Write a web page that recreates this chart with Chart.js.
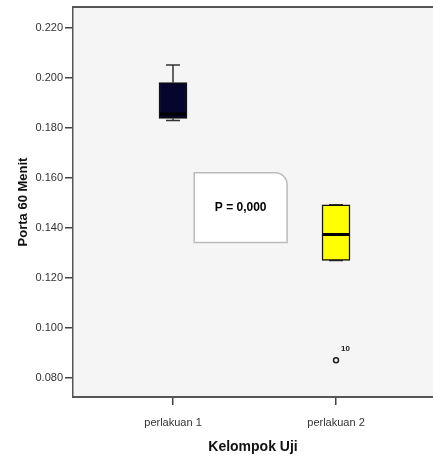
<!DOCTYPE html>
<html>
<head>
<meta charset="utf-8">
<script src="https://cdn.jsdelivr.net/npm/chart.js@4.4.1/dist/chart.umd.min.js"></script>
<style>
  html, body { margin: 0; padding: 0; background: #fff; overflow: hidden; }
  canvas { display: block; }
</style>
</head>
<body>
<canvas id="box" width="433" height="456"></canvas>
<script>
// Data
const groups = ['perlakuan 1', 'perlakuan 2'];
const groupPos = [1, 2];
const whiskerLow = [0.1830, 0.1270];
const q1 = [0.1838, 0.1270];
const median = [0.1856, 0.1374];
const q3 = [0.1982, 0.1493];
const whiskerHigh = [0.2052, 0.1493];
const outlierPos = [2];
const outlierVals = [0.0871];
const outlierLabels = ['10'];
const yTicks = [0.080, 0.100, 0.120, 0.140, 0.160, 0.180, 0.200, 0.220];
const pText = 'P = 0,000';

const boxColors = ['#05052e', '#ffff00'];

// annotation box placed in data units
const pBox = { x1: 1.13, x2: 1.70, y1: 0.1621, y2: 0.1342 };

const boxPlugin = {
    id: 'boxExtras',
    beforeDraw(chart) {
        const { ctx, chartArea: a } = chart;
        ctx.save();
        ctx.fillStyle = '#f5f5f5';
        ctx.fillRect(a.left, a.top, a.right - a.left, a.bottom - a.top);
        ctx.restore();
    },
    beforeDatasetsDraw(chart) {
        const { ctx, scales: { x, y } } = chart;
        ctx.save();
        ctx.strokeStyle = '#333';
        ctx.lineWidth = 1.5;
        groupPos.forEach((g, i) => {
            const px = x.getPixelForValue(g);
            const cap = 7;
            ctx.beginPath();
            ctx.moveTo(px, y.getPixelForValue(whiskerHigh[i]));
            ctx.lineTo(px, y.getPixelForValue(q3[i]));
            ctx.moveTo(px, y.getPixelForValue(whiskerLow[i]));
            ctx.lineTo(px, y.getPixelForValue(q1[i]));
            ctx.moveTo(px - cap, y.getPixelForValue(whiskerHigh[i]));
            ctx.lineTo(px + cap, y.getPixelForValue(whiskerHigh[i]));
            ctx.moveTo(px - cap, y.getPixelForValue(whiskerLow[i]));
            ctx.lineTo(px + cap, y.getPixelForValue(whiskerLow[i]));
            ctx.stroke();
        });
        ctx.restore();
    },
    afterDatasetsDraw(chart) {
        const { ctx, chartArea: a, scales: { x, y } } = chart;
        ctx.save();
        // median lines
        ctx.strokeStyle = '#000';
        ctx.lineWidth = 3;
        groupPos.forEach((g, i) => {
            const px = x.getPixelForValue(g);
            const py = y.getPixelForValue(median[i]);
            ctx.beginPath();
            ctx.moveTo(px - 13, py);
            ctx.lineTo(px + 13, py);
            ctx.stroke();
        });

        // outlier labels
        ctx.fillStyle = '#222';
        ctx.font = 'bold 8px "Liberation Sans", Arial, sans-serif';
        ctx.textAlign = 'left';
        ctx.textBaseline = 'middle';
        outlierVals.forEach((v, i) => {
            ctx.fillText(outlierLabels[i], x.getPixelForValue(outlierPos[i]) + 5, y.getPixelForValue(v) - 11);
        });

        // top frame line
        ctx.strokeStyle = '#555';
        ctx.lineWidth = 2;
        ctx.beginPath();
        ctx.moveTo(a.left, a.top);
        ctx.lineTo(a.right, a.top);
        ctx.stroke();

        // P value box
        const bx1 = x.getPixelForValue(pBox.x1), bx2 = x.getPixelForValue(pBox.x2);
        const by1 = y.getPixelForValue(pBox.y1), by2 = y.getPixelForValue(pBox.y2);
        const r = 12;
        ctx.beginPath();
        ctx.moveTo(bx1, by1);
        ctx.lineTo(bx2 - r, by1);
        ctx.arcTo(bx2, by1, bx2, by1 + r, r);
        ctx.lineTo(bx2, by2);
        ctx.lineTo(bx1, by2);
        ctx.closePath();
        ctx.fillStyle = '#fff';
        ctx.fill();
        ctx.strokeStyle = '#bbb';
        ctx.lineWidth = 1.5;
        ctx.stroke();
        ctx.fillStyle = '#000';
        ctx.font = 'bold 12px "Liberation Sans", Arial, sans-serif';
        ctx.textAlign = 'center';
        ctx.fillText(pText, (bx1 + bx2) / 2, (by1 + by2) / 2);
        ctx.restore();
    }
};

new Chart(document.getElementById('box'), {
    type: 'bar',
    data: {
        datasets: [
            {
                type: 'bar',
                data: groupPos.map((g, i) => ({ x: g, y: [q1[i], q3[i]] })),
                backgroundColor: boxColors,
                borderColor: '#111',
                borderWidth: 1.5,
                borderSkipped: false,
                barThickness: 28
            },
            {
                type: 'scatter',
                data: outlierPos.map((g, i) => ({ x: g, y: outlierVals[i] })),
                pointRadius: 2.5,
                pointBackgroundColor: '#f5f5f5',
                pointBorderColor: '#222',
                pointBorderWidth: 1.5
            }
        ]
    },
    options: {
        responsive: false,
        animation: false,
        layout: { autoPadding: false, padding: { top: 7, left: 0, right: 0, bottom: 0 } },
        plugins: { legend: { display: false }, tooltip: { enabled: false } },
        scales: {
            x: {
                type: 'linear',
                offset: false,
                min: 0.3865,
                max: 2.595,
                afterBuildTicks: s => { s.ticks = groupPos.map(v => ({ value: v })); },
                afterFit: s => { s.height = 59; s.paddingLeft = 0; s.paddingRight = 0; },
                ticks: {
                    color: '#333',
                    font: { family: '"Liberation Sans", Arial, sans-serif', size: 11 },
                    padding: 11,
                    callback: (v) => groups[groupPos.indexOf(v)] || ''
                },
                grid: { offset: false, drawOnChartArea: false, tickLength: 8, color: '#444', lineWidth: 1.5 },
                border: { color: '#555', width: 2 },
                title: {
                    display: true,
                    text: 'Kelompok Uji',
                    color: '#111',
                    font: { family: '"Liberation Sans", Arial, sans-serif', size: 14, weight: 'bold' },
                    padding: { top: 0, bottom: 0 }
                }
            },
            y: {
                min: 0.0724,
                max: 0.2284,
                afterBuildTicks: s => { s.ticks = yTicks.map(v => ({ value: v })); },
                afterFit: s => { s.width = 73; s.paddingTop = 0; s.paddingBottom = 0; },
                ticks: {
                    color: '#333',
                    font: { family: '"Liberation Sans", Arial, sans-serif', size: 11 },
                    padding: 2,
                    callback: v => v.toFixed(3)
                },
                grid: { drawOnChartArea: false, tickLength: 8, color: '#444', lineWidth: 1.5 },
                border: { color: '#555', width: 1.5 },
                title: {
                    display: true,
                    text: 'Porta 60 Menit',
                    color: '#111',
                    font: { family: '"Liberation Sans", Arial, sans-serif', size: 13, weight: 'bold' },
                    padding: { top: 16, bottom: 0 }
                }
            }
        }
    },
    plugins: [boxPlugin]
});
</script>
</body>
</html>
